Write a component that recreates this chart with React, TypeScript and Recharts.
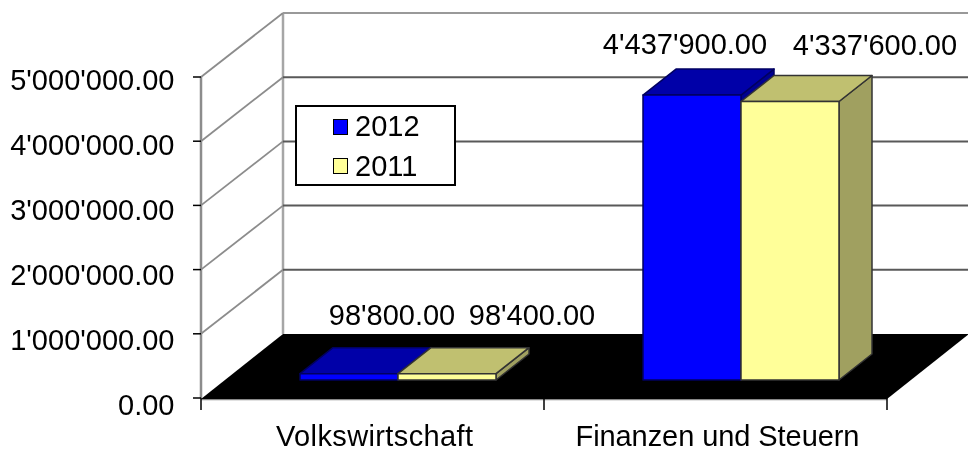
import React from 'react';
import { BarChart, Bar, XAxis, YAxis, CartesianGrid, Legend, LabelList } from 'recharts';

const categories = ['Volkswirtschaft', 'Finanzen und Steuern'];
const values2012 = [98800, 4437900];
const values2011 = [98400, 4337600];
const yTicks = [0, 1000000, 2000000, 3000000, 4000000, 5000000];

const chartData = categories.map((name, i) => ({
  name,
  y2012: values2012[i],
  y2011: values2011[i],
}));

const FONT = '"Liberation Sans", Arial, sans-serif';
const WIDTH = 968;
const HEIGHT = 452;
const PLOT_TOP = 77;
const PLOT_BOTTOM = 398;

// 3D look: wall depth and how far the bars sit in from the front of the floor
const WALL_DX = 82;
const WALL_DY = -64;
const BAR_SHIFT_X = 25;
const BAR_SHIFT_Y = -18;
const BAR_DX = 33;
const BAR_DY = -26;

const fmt = (v: number) =>
  v.toFixed(2).replace(/\B(?=(\d{3})+(?!\d))/g, "'");

const wallLine = (props: any) => {
  const { x1, x2, y1, index } = props;
  const backX = x1 + WALL_DX;
  const backY = y1 + WALL_DY;
  const isFloor = Math.abs(y1 - PLOT_BOTTOM) < 1;
  if (isFloor) {
    return (
      <g key={`wall-${index}`}>
        <line x1={x1} y1={y1 + 1.5} x2={x2} y2={y1 + 1.5} stroke="#888" strokeWidth={1.5} />
        <polygon
          points={`${x1},${y1 + 1} ${backX},${backY} ${x2 + WALL_DX},${backY} ${x2},${y1 + 1}`}
          fill="#000"
        />
        <line x1={backX} y1={PLOT_TOP + WALL_DY} x2={backX} y2={backY} stroke="#a6a6a6" strokeWidth={2.5} />
      </g>
    );
  }
  return (
    <g key={`wall-${index}`}>
      <line x1={x1} y1={y1} x2={backX} y2={backY} stroke="#8c8c8c" strokeWidth={1.8} />
      <line
        x1={backX}
        y1={backY}
        x2={x2 + WALL_DX}
        y2={backY}
        stroke={y1 < PLOT_TOP + 1 ? '#999' : '#595959'}
        strokeWidth={2}
      />
    </g>
  );
};

const box3d = (front: string, top: string, side: string, edge: string) => (props: any) => {
  const { x, y, width, height } = props;
  const l = x + BAR_SHIFT_X;
  const r = l + width;
  const t = y + BAR_SHIFT_Y;
  const b = t + height;
  return (
    <g stroke={edge} strokeWidth={1.5} strokeLinejoin="round">
      <polygon points={`${r},${t} ${r + BAR_DX},${t + BAR_DY} ${r + BAR_DX},${b + BAR_DY} ${r},${b}`} fill={side} />
      <polygon points={`${l},${t} ${l + BAR_DX},${t + BAR_DY} ${r + BAR_DX},${t + BAR_DY} ${r},${t}`} fill={top} />
      <rect x={l} y={t} width={width} height={height} fill={front} />
    </g>
  );
};

const blueBox = box3d('#0000ff', '#0000a8', '#000090', '#000060');
const yellowBox = box3d('#ffff99', '#c0c070', '#a0a060', '#333');

// the value labels float off the bars unevenly in the original
const labelOffsets2012 = [
  { dx: 68, dy: -76.5 },
  { dx: 18, dy: -69 },
];
const labelOffsets2011 = [
  { dx: 110, dy: -76.5 },
  { dx: 110, dy: -75 },
];

const barLabel = (offsets: { dx: number; dy: number }[]) => (props: any) => {
  const { x, y, width, value, index } = props;
  const o = offsets[index];
  return (
    <text
      x={x + width / 2 + o.dx}
      y={y + o.dy}
      textAnchor="middle"
      dominantBaseline="central"
      fontSize={29}
      fontFamily={FONT}
      fill="#000"
    >
      {fmt(value)}
    </text>
  );
};

// tick labels drift a little below their tick marks towards the bottom
const ValueTick = (props: any) => {
  const { y, payload } = props;
  const baseline = y + 13 + ((y - PLOT_TOP) * 3.5) / (PLOT_BOTTOM - PLOT_TOP);
  return (
    <text x={174.5} y={baseline} textAnchor="end" fontSize={29} fontFamily={FONT} fill="#000">
      {fmt(payload.value)}
    </text>
  );
};

const categoryWidths = [197, 284];

const CategoryTick = (props: any) => {
  const { x, payload } = props;
  const half = 343 / 2;
  return (
    <g>
      <line x1={x - half} y1={PLOT_BOTTOM} x2={x - half} y2={PLOT_BOTTOM + 12} stroke="#000" strokeWidth={1.5} />
      {payload.index === categories.length - 1 && (
        <line x1={x + half} y1={PLOT_BOTTOM} x2={x + half} y2={PLOT_BOTTOM + 12} stroke="#000" strokeWidth={1.5} />
      )}
      <text
        x={x + 2}
        y={PLOT_BOTTOM + 47.5}
        textAnchor="middle"
        fontSize={29}
        fontFamily={FONT}
        fill="#000"
        textLength={categoryWidths[payload.index]}
      >
        {payload.value}
      </text>
    </g>
  );
};

const LegendBox = (props: any) => (
  <div
    style={{
      width: 157,
      height: 77,
      boxSizing: 'content-box',
      border: '2px solid #000',
      background: '#fff',
      fontFamily: FONT,
      fontSize: 29,
      color: '#000',
    }}
  >
    {(props.payload || []).map((item: any) => (
      <div key={item.value} style={{ display: 'flex', alignItems: 'center', height: 39.5, paddingLeft: 36 }}>
        <span
          style={{
            display: 'inline-block',
            width: 13,
            height: 14,
            border: '1.5px solid #000',
            background: item.color,
            marginRight: 7,
          }}
        />
        {item.value}
      </div>
    ))}
  </div>
);

export default function App() {
  return (
    <div style={{ position: 'absolute', left: 0, top: 0, width: WIDTH, height: HEIGHT, background: '#fff', filter: 'blur(0.5px)' }}>
      <BarChart
        width={WIDTH}
        height={HEIGHT}
        data={chartData}
        margin={{ top: PLOT_TOP, right: 81, bottom: 0, left: 0 }}
        barSize={98}
        barGap={0}
      >
        <CartesianGrid vertical={false} horizontal={wallLine} />
        <XAxis
          dataKey="name"
          height={HEIGHT - PLOT_BOTTOM}
          axisLine={false}
          tickLine={false}
          interval={0}
          tick={CategoryTick}
        />
        <YAxis
          width={201}
          domain={[0, 5000000]}
          ticks={yTicks}
          interval={0}
          tick={ValueTick}
          tickSize={8}
          tickLine={{ stroke: '#000', strokeWidth: 1.5 }}
          axisLine={{ stroke: '#8c8c8c', strokeWidth: 2.5 }}
        />
        <Legend
          layout="vertical"
          align="center"
          verticalAlign="middle"
          itemSorter={null}
          content={LegendBox}
          wrapperStyle={{ left: 295, top: 105, width: 161, height: 81 }}
        />
        <Bar dataKey="y2012" name="2012" fill="#0000ff" shape={blueBox} isAnimationActive={false}>
          <LabelList dataKey="y2012" content={barLabel(labelOffsets2012)} />
        </Bar>
        <Bar dataKey="y2011" name="2011" fill="#ffff99" shape={yellowBox} isAnimationActive={false}>
          <LabelList dataKey="y2011" content={barLabel(labelOffsets2011)} />
        </Bar>
      </BarChart>
    </div>
  );
}
